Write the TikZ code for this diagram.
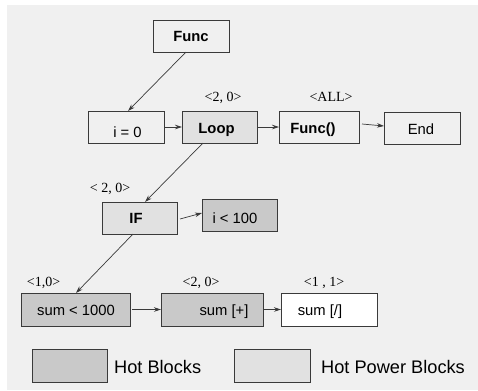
\documentclass[tikz,border=0pt]{standalone}
\usepackage{fontspec}
\setmainfont{Liberation Sans}
\newfontfamily\tagfont{Liberation Serif}
\usetikzlibrary{arrows.meta}
\definecolor{panel}{HTML}{F0F0F0}
\definecolor{hotfill}{HTML}{C9C9C9}
\definecolor{powerfill}{HTML}{E1E1E1}
\definecolor{edge}{HTML}{3A3A3A}
\tikzset{
  blk/.style={draw=edge, line width=0.9bp, inner sep=0pt, outer sep=0pt, rectangle},
  hot/.style={blk, fill=hotfill},
  power/.style={blk, fill=powerfill},
  plain/.style={blk, fill=panel},
  bare/.style={blk, fill=white},
  btxt/.style={anchor=base, inner sep=0pt, font=\fontsize{14.8bp}{17bp}\selectfont},
  bbtxt/.style={btxt, font=\fontsize{14.8bp}{17bp}\selectfont\bfseries},
  tag/.style={anchor=base, inner sep=0pt, font=\fontsize{14bp}{16bp}\selectfont\tagfont},
  ltxt/.style={anchor=base west, inner sep=0pt, font=\fontsize{18.2bp}{21bp}\selectfont},
  conn/.style={draw=edge, line width=0.7bp, -{Stealth[length=7bp,width=4.5bp]}},
}
\begin{document}
\begin{tikzpicture}[x=1bp,y=-1bp]
\useasboundingbox (0,0) rectangle (478,390);
\fill[panel] (7,5) rectangle (478,390);

% top row
\node[plain, minimum width=76bp, minimum height=32bp] (func) at (191,36) {};
\node[bbtxt] (tfunc) at (191,41) {Func};

\node[plain, minimum width=76bp, minimum height=32bp] (i0) at (126,127) {};
\node[btxt] (ti0) at (127.5,137) {i = 0};

\node[power, minimum width=75bp, minimum height=32bp] (loop) at (219.5,127) {};
\node[bbtxt] (tloop) at (216.5,133) {Loop};
\node[tag] (gloop) at (223,101) {<2, 0>};

\node[plain, minimum width=80bp, minimum height=32bp] (funcc) at (319,127) {};
\node[bbtxt] (tfuncc) at (313,133) {Func()};
\node[tag] (gfuncc) at (331,101) {<ALL>};

\node[plain, minimum width=76bp, minimum height=32bp] (end) at (422,128) {};
\node[btxt] (tend) at (421,134) {End};

% middle row
\node[power, minimum width=75bp, minimum height=32bp] (if) at (139.5,218) {};
\node[bbtxt] (tif) at (136,223.5) {IF};
\node[tag] (gif) at (110,192) {< 2, 0>};

\node[hot, minimum width=75bp, minimum height=32bp] (i100) at (239.5,215) {};
\node[btxt] (ti100) at (235,223) {i < 100};

% bottom row
\node[hot, minimum width=109bp, minimum height=33bp] (s1000) at (75.5,309.5) {};
\node[btxt] (ts1000) at (76,315) {sum < 1000};
\node[tag] (gs1000) at (43.5,286) {<1,0>};

\node[hot, minimum width=102bp, minimum height=33bp] (sp) at (212,309.5) {};
\node[btxt] (tsp) at (224,315) {sum [+]};
\node[tag] (gsp) at (201,286) {<2, 0>};

\node[bare, minimum width=96bp, minimum height=33bp] (sd) at (329,309.5) {};
\node[btxt] (tsd) at (320,315) {sum [/]};
\node[tag] (gsd) at (324,286) {<1 , 1>};

% connectors
\draw[conn] ([xshift=-5bp]func.south) -- ([xshift=2bp]i0.north);
\draw[conn] (i0.east) -- (loop.west);
\draw[conn] (loop.east) -- (funcc.west);
\draw[conn] ([shift={(3bp,3bp)}]funcc.east) -- ([yshift=2bp]end.west);
\draw[conn] ([xshift=-16.5bp]loop.south) -- ([xshift=5.5bp]if.north);
\draw[conn] ([shift={(3bp,-1bp)}]if.east) -- ([yshift=2bp]i100.west);
\draw[conn] ([xshift=-6.5bp]if.south) -- ([xshift=0.5bp]s1000.north);
\draw[conn] ([xshift=2bp]s1000.east) -- (sp.west);
\draw[conn] (sp.east) -- (sd.west);

% legend
\node[hot, minimum width=75bp, minimum height=33bp] (khot) at (69.5,365.5) {};
\node[ltxt] (lhot) at (114,373) {Hot Blocks};
\node[power, minimum width=76bp, minimum height=33bp] (kpow) at (272,365.5) {};
\node[ltxt] (lpow) at (321,373) {Hot Power Blocks};
\end{tikzpicture}
\end{document}
